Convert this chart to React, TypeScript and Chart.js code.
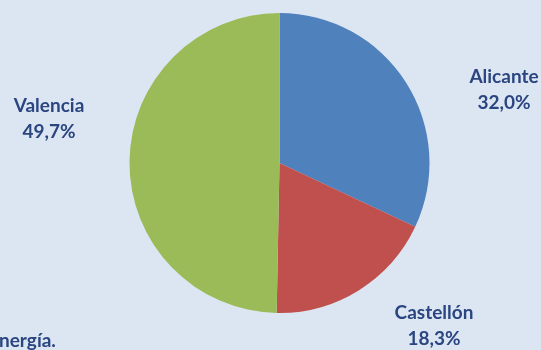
import React, { useEffect, useRef } from "react";
import { Chart, registerables } from "chart.js";

Chart.register(...registerables);

const categories = ["Alicante", "Castellón", "Valencia"];
const values = [32.0, 18.3, 49.7];
const valueLabels = ["32,0%", "18,3%", "49,7%"];
const colors = ["#4f81bd", "#c0504d", "#9bbb59"];
const footnote = "nergía.";

const BG = "#dce6f2";
const TEXT = "#2a4580";
const FONT = "bold 19px Lato, 'Open Sans', sans-serif";

// label anchor positions (centre x, first-line centre y)
const labelPos = [
  { x: 504, y: 77 },
  { x: 434, y: 313 },
  { x: 49, y: 106 },
];

const labelsPlugin = {
  id: "outerLabels",
  afterDraw(chart: any) {
    const ctx = chart.ctx;
    ctx.save();
    ctx.fillStyle = TEXT;
    ctx.font = FONT;
    ctx.textAlign = "center";
    ctx.textBaseline = "middle";
    categories.forEach((c, i) => {
      const p = labelPos[i];
      ctx.fillText(c, p.x, p.y);
      ctx.fillText(valueLabels[i], p.x, p.y + 26);
    });
    ctx.textAlign = "left";
    ctx.fillText(footnote, -1, 341);
    ctx.restore();
  },
};

const bgPlugin = {
  id: "bg",
  beforeDraw(chart: any) {
    const ctx = chart.ctx;
    ctx.save();
    ctx.fillStyle = BG;
    ctx.fillRect(0, 0, chart.width, chart.height);
    ctx.restore();
  },
};

export default function App() {
  const ref = useRef<HTMLCanvasElement>(null);
  useEffect(() => {
    if (!ref.current) return;
    const chart = new Chart(ref.current, {
      type: "pie",
      data: {
        labels: categories,
        datasets: [
          {
            data: values,
            backgroundColor: colors,
            borderWidth: 0,
          },
        ],
      },
      options: {
        responsive: false,
        animation: false,
        layout: { padding: { left: 129, right: 111, top: 13, bottom: 37 } },
        plugins: {
          legend: { display: false },
          tooltip: { enabled: false },
          title: { display: false },
        },
      },
      plugins: [bgPlugin, labelsPlugin],
    });
    return () => chart.destroy();
  }, []);
  return (
    <div style={{ position: "fixed", left: 0, top: 0, width: 541, height: 350, background: BG }}>
      <canvas ref={ref} width={541} height={350} style={{ display: "block" }} />
    </div>
  );
}
